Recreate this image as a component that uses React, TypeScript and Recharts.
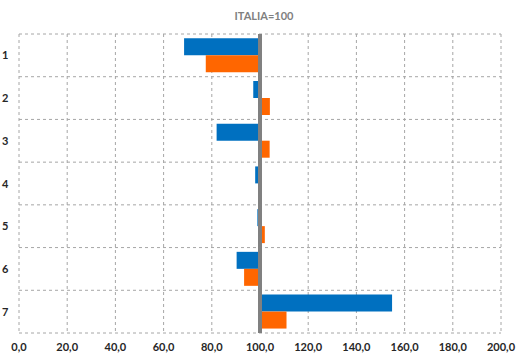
import React from 'react';
import {
  BarChart, Bar, XAxis, YAxis, CartesianGrid, ReferenceLine,
} from 'recharts';

const categories = ['1', '2', '3', '4', '5', '6', '7'];
const blueValues = [68.5, 97.2, 82.0, 98.0, 98.9, 90.3, 154.8];
const orangeValues = [77.5, 104.1, 104.0, 100.3, 102.0, 93.4, 111.0];
const xTicks = [0, 20, 40, 60, 80, 100, 120, 140, 160, 180, 200];
const BASE = 100;

const data = categories.map((name, i) => ({
  name,
  blue: blueValues[i],
  orange: orangeValues[i],
}));

const range = (v: number) => [Math.min(BASE, v), Math.max(BASE, v)];

const fmt = (v: number) => v.toFixed(1).replace('.', ',');

const font = 'Lato, "Open Sans", sans-serif';

function CatTick(props: any) {
  const { y, payload } = props;
  return (
    <text x={2} y={y} dy={4} fontSize={11} fontWeight={700} fill="#262626" fontFamily={font}>
      {payload.value}
    </text>
  );
}

// horizontal grid lines at the category band edges, not the centres
const bandLines = ({ offset }: any) =>
  Array.from({ length: categories.length + 1 }, (_, i) => offset.top + (i * offset.height) / categories.length);

export default function App() {
  return (
    <div style={{ position: 'absolute', left: 0, top: 0, width: 528, height: 357, background: '#fff' }}>
      <div
        style={{
          position: 'absolute', top: 9, left: 0, width: 528, textAlign: 'center',
          fontFamily: font, fontSize: 11, fontWeight: 700, color: '#808080',
        }}
      >
        ITALIA=100
      </div>
      <BarChart
        width={528}
        height={357}
        data={data}
        layout="vertical"
        margin={{ top: 34, right: 27, left: 0, bottom: 0 }}
        barCategoryGap="10%"
        barGap={0}
      >
        <CartesianGrid
          strokeDasharray="3 3"
          stroke="#a6a6a6"
          horizontalCoordinatesGenerator={bandLines}
        />
        <XAxis
          type="number"
          domain={[0, 200]}
          ticks={xTicks}
          tickFormatter={fmt}
          axisLine={false}
          tickLine={false}
          height={24}
          tickMargin={4}
          tick={{ fontSize: 11, fontWeight: 700, fill: '#262626', fontFamily: font }}
          interval={0}
        />
        <YAxis
          type="category"
          dataKey="name"
          width={19}
          axisLine={false}
          tickLine={false}
          tick={<CatTick />}
        />
        <Bar dataKey={(d: any) => range(d.blue)} fill="#0070C0" isAnimationActive={false} />
        <Bar dataKey={(d: any) => range(d.orange)} fill="#FF6600" isAnimationActive={false} />
        <ReferenceLine x={BASE} stroke="#808080" strokeWidth={4} />
      </BarChart>
    </div>
  );
}
